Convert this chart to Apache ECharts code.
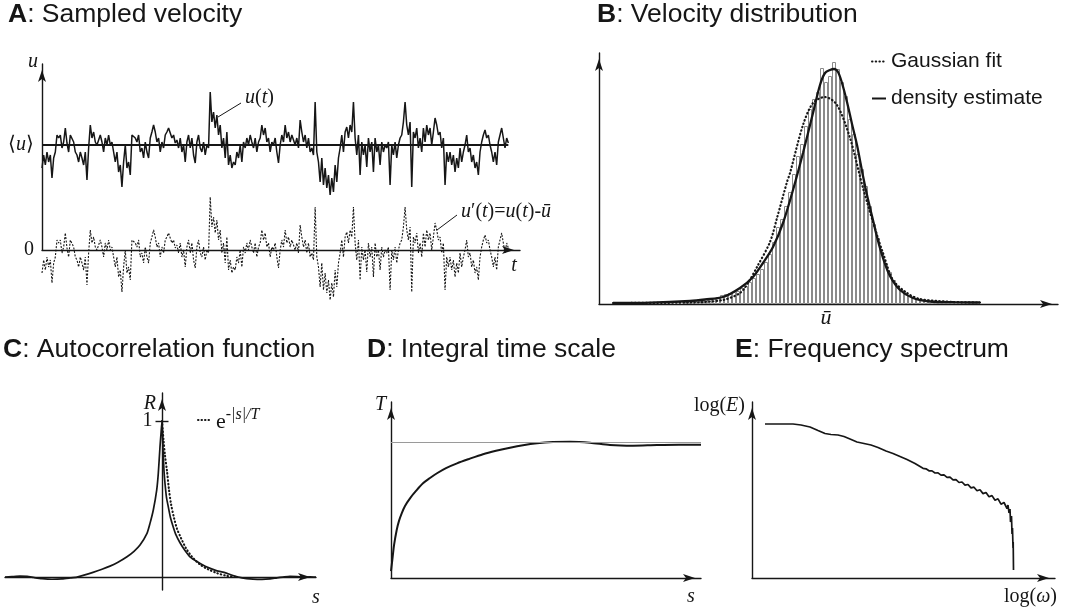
<!DOCTYPE html>
<html><head><meta charset="utf-8">
<script src="https://cdn.jsdelivr.net/npm/echarts@6/dist/echarts.min.js"></script>
<style>html,body{margin:0;padding:0;background:#fff}#c{width:1065px;height:612px}</style>
</head><body><div id="c"></div>
<script>
// ---------- Panel A: sampled velocity u(t) (arbitrary units, <u> = 105) ----------
const uSamples = [
 82,95,85,98,88,95,72,92,98,115,112,115,102,108,122,107,98,115,117,108,
 98,95,88,98,92,85,98,70,102,125,112,118,108,105,110,115,108,98,112,105,
 115,105,108,98,88,98,78,85,63,88,105,82,88,75,115,115,112,108,115,98,
 102,92,108,98,92,112,118,125,118,108,112,
 98,108,102,115,118,122,123,112,115,107,110,102,112,98,105,88,108,115,102,112,
 95,87,108,115,102,98,108,95,105,102,158,128,138,122,135,115,125,102,112,92,
 118,85,95,82,88,85,98,92,105,88,108,102,112,105,115,108,102,112,98,108,
 112,125,115,122,108,112,98,108,105,
 112,98,87,105,115,108,125,112,118,108,115,117,105,112,102,130,118,108,115,102,
 112,98,102,95,148,98,88,68,92,65,82,62,75,55,72,58,85,68,92,102,
 115,98,118,123,112,125,118,148,112,95,115,75,108,95,105,83,112,98,108,78,
 112,98,105,85,108,98,105,102,108,
 65,105,95,108,92,105,112,115,128,148,125,115,128,63,118,112,122,102,112,98,
 122,108,125,115,122,105,118,132,125,115,118,102,112,65,98,88,98,85,95,78,
 92,82,102,88,98,105,115,98,102,88,95,82,88,75,98,108,115,120,112,115,
 105,98,88,98,85,108,115,122,112,102,112,107
];
const meanU = 105;

// ---------- Panel B: velocity distribution ----------
const histStart = 87;      // first bin centre (velocity units)
const histBinWidth = 4;
const histCounts = [
 2,3,3,4,4,5,6,6,7,9,10,11,12,13,16,18,22,26,30,35,
 42,50,62,77,85,98,112,130,148,160,178,195,205,212,236,222,228,242,235,222,
 208,185,170,150,135,118,98,80,66,52,40,32,24,18,14,11,8,6,5,4,
 3,3,2,2,1.5,1.5,1,1,1,1,1,1,1
];
const densityEstimate = [
 [14,1],[51,1.3],[91,3],[106,4.5],[124,7],[141,16],[154,27],[164,41],[174,57],[184,81],
 [194,114],[204,151],[214,191],[221,219],[226,231],[231,234],[235,235],[239,232],[243,221],[248,202],
 [253,180],[258,159],[264,128],[268,109],[273,88],[278,67],[284,46],[291,28],[301,14],[314,6],
 [331,2.5],[356,1.8],[381,1.5]
];
const gaussianFit = [
 [14,1],[91,1.5],[124,4],[141,11],[149,21],[158,37],[171,62],[178,86],[188,122],[191,131],
 [204,179],[214,201],[226,207],[238,199],[251,166],[264,116],[278,69],[284,51],[294,24],[308,11],
 [321,5],[354,2],[381,1.5]
];
const uBar = 227;

// ---------- Panel C: autocorrelation R(s) ----------
const acfMeasured = [
 [-157,0],[-150,0.003],[-142,0.006],[-135,0.004],[-128,-0.003],[-120,-0.01],[-110,-0.014],[-100,-0.012],
 [-92,-0.006],[-85,0],[-78,0.012],[-69,0.03],[-60,0.05],[-52,0.07],[-44,0.095],[-35,0.13],[-28,0.165],
 [-22,0.205],[-15,0.28],[-12,0.344],[-8.7,0.43],[-5.3,0.558],[-3.7,0.665],[-2,0.835],[-1,0.92],[0,1],
 [1,0.82],[2,0.68],[3,0.6],[4.5,0.51],[6.3,0.45],[8.5,0.38],[11.3,0.32],[14,0.27],[18,0.22],[23,0.17],
 [28,0.13],[35,0.1],[45,0.064],[55,0.04],[62,0.03],[71,0.01],[80,-0.005],[91,-0.013],[100,-0.015],
 [108,-0.012],[115,-0.005],[121,0],[128,0.005],[135,0.003],[142,-0.002],[148,0.002],[154,0]
];
const acfExponential = [
 [0,1],[1.5,0.88],[3,0.78],[5,0.68],[7,0.56],[9,0.47],[12,0.38],[15,0.31],[19,0.25],[24,0.185],
 [30,0.13],[38,0.08],[46,0.05],[55,0.025],[65,0.008],[75,0]
];
const acfTick = 1;

// ---------- Panel D: integral time scale T(s) ----------
const integralScale = [
 [0,0.051],[0.17,0.157],[0.3,0.24],[0.57,0.353],[0.8,0.42],[1.07,0.476],[1.4,0.53],[1.9,0.586],[2.5,0.64],
 [3.2,0.696],[3.9,0.735],[4.6,0.77],[5.5,0.808],[6.6,0.843],[7.8,0.875],[9.2,0.91],[10.5,0.935],[11.9,0.958],
 [13.2,0.976],[14.6,0.99],[16.2,0.999],[17.9,1.002],[19.9,0.995],[21.9,0.978],[24.2,0.973],[26.6,0.978],
 [28.8,0.98],[31,0.98]
];
const integralScaleLimit = 1;

// ---------- Panel E: frequency spectrum log(E) vs log(omega) ----------
const spectrum = [
 [1.3,15.4],[3.0,15.4],[4.1,15.4],[4.9,15.3],[5.8,15.1],[6.6,14.75],[7.3,14.45],[7.9,14.35],[8.6,14.3],
 [9.2,14.15],[9.8,13.9],[10.5,13.6],[11.2,13.45],[11.9,13.3],[12.6,13.05],[13.4,12.7],[14.1,12.45],
 [14.8,12.15],[15.5,11.85],[16.3,11.45],[17.1,10.97],[17.4,10.92],[17.7,10.72],[18.0,10.71],[18.3,10.5],
 [18.6,10.51],[18.9,10.28],[19.2,10.31],[19.5,10.07],[19.8,10.08],[20.1,9.81],[20.4,9.84],[20.7,9.55],
 [21.0,9.6],[21.3,9.29],[21.6,9.35],[21.9,9.01],[22.2,9.08],[22.5,8.72],[22.8,8.82],[23.1,8.44],[23.4,8.55],
 [23.7,8.12],[24.0,8.24],[24.3,7.78],[24.6,7.92],[24.9,7.38],[25.2,7.55],[25.5,6.95],[25.6,7.3],[25.7,6.5],
 [25.8,6.9],[25.85,5.6],[25.95,6.2],[26.0,4.4],[26.05,5.0],[26.1,3.0],[26.12,3.6],[26.15,0.8]
];

// ---------- styles ----------
const INK = '#161616';
const SANS = 'Liberation Sans, Arial, sans-serif';
const SERIF = 'Liberation Serif, Times New Roman, serif';

function axis(grid, min, max, extra) {
  return Object.assign({
    type: 'value', gridIndex: grid, min: min, max: max,
    axisLine: { show: true, onZero: true, symbol: ['none', 'arrow'], symbolSize: [6, 12], symbolOffset: [0, -6],
      lineStyle: { color: INK, width: 1.4 } },
    axisTick: { show: false }, axisLabel: { show: false }, splitLine: { show: false }
  }, extra || {});
}
const italic = { fontFamily: SERIF, fontStyle: 'italic', fontSize: 20, color: INK };
const roman = { fontFamily: SERIF, fontSize: 20, color: INK };

function gtext(x, y, text, align, rich, size) {
  return { type: 'text', x: x, y: y, z: 50, style: { text: text, align: align, verticalAlign: 'middle',
    fill: INK, fontFamily: SERIF, fontStyle: 'italic', fontSize: size || 20, rich: rich } };
}
const gRich = {
  i: { fontFamily: SERIF, fontStyle: 'italic', fontSize: 20, fill: INK },
  n: { fontFamily: SERIF, fontStyle: 'normal', fontSize: 20, fill: INK }
};
function titleOf(letter, rest, left, top) {
  return { text: '{b|' + letter + '}{n|: ' + rest + '}', left: left, top: top, padding: 0,
    textStyle: { fontWeight: 'normal', rich: {
      b: { fontFamily: SANS, fontWeight: 'bold', fontSize: 26.5, lineHeight: 30, color: INK },
      n: { fontFamily: SANS, fontWeight: 'normal', fontSize: 26.5, lineHeight: 30, color: INK } } } };
}
function gridBox(l, t, w, h) {
  return { left: l, top: t, width: w, height: h, containLabel: false, outerBoundsMode: 'none' };
}

const option = {
  animation: false,
  backgroundColor: '#fff',
  title: [
    titleOf('A', 'Sampled velocity', 8, 0),
    titleOf('B', 'Velocity distribution', 597, 0),
    titleOf('C', 'Autocorrelation function', 3, 335),
    titleOf('D', 'Integral time scale', 367, 335),
    titleOf('E', 'Frequency spectrum', 735, 335)
  ],
  grid: [
    gridBox(42, 64, 478, 186),
    gridBox(599, 53, 459, 251),
    gridBox(5, 393, 311, 197),
    gridBox(391, 402, 310, 176),
    gridBox(752, 402, 303, 176)
  ],
  xAxis: [
    axis(0, 0, 287),
    axis(1, 0, 459, { axisLabel: { show: true, customValues: [uBar], formatter: function () { return 'ū'; },
      margin: 3, fontFamily: SERIF, fontStyle: 'italic', fontSize: 22, color: INK } }),
    axis(2, -157, 154),
    axis(3, 0, 31),
    axis(4, 0, 30.3)
  ],
  yAxis: [
    axis(0, 0, 186, { axisLabel: { show: true, customValues: [0, meanU], margin: 8,
      formatter: function (v) { return v === 0 ? '{n|0}' : '{n|⟨}{i|u}{n|⟩}'; },
      rich: { n: roman, i: italic } } }),
    axis(1, 0, 251),
    axis(2, -0.083, 1.18),
    axis(3, 0, 1.294),
    axis(4, 0, 17.6)
  ],
  legend: [
    { data: ['Gaussian fit', 'density estimate'], left: 866, top: 46, orient: 'vertical',
      itemWidth: 14, itemHeight: 10, itemGap: 16, selectedMode: false,
      itemStyle: { opacity: 0 },
      textStyle: { fontFamily: SANS, fontSize: 21, color: INK } },
    { data: ['exp'], left: 192, top: 402, itemWidth: 13, itemHeight: 10, selectedMode: false,
      itemStyle: { opacity: 0 },
      formatter: function () { return '{e|e}{s|-|s|/T}'; },
      textStyle: { rich: {
        e: { fontFamily: SERIF, fontSize: 22, color: INK, lineHeight: 26, verticalAlign: 'bottom' },
        s: { fontFamily: SERIF, fontStyle: 'italic', fontSize: 16, color: INK, lineHeight: 26, verticalAlign: 'top' } } } }
  ],
  series: [
    // A
    { type: 'line', name: 'u(t)', xAxisIndex: 0, yAxisIndex: 0, symbol: 'none', clip: false, z: 4,
      data: uSamples.map(function (v, i) { return [i, v]; }),
      lineStyle: { color: INK, width: 1.5 }, itemStyle: { color: INK } },
    { type: 'line', name: "u'(t)", xAxisIndex: 0, yAxisIndex: 0, symbol: 'none', clip: false, z: 4,
      data: uSamples.map(function (v, i) { return [i, v - meanU]; }),
      lineStyle: { color: INK, width: 1.1, type: [2, 1.5] }, itemStyle: { color: INK } },
    { type: 'line', name: 'mean', xAxisIndex: 0, yAxisIndex: 0, symbol: 'none', z: 5,
      data: [[0, meanU], [uSamples.length - 1, meanU]],
      lineStyle: { color: INK, width: 2 }, itemStyle: { color: INK } },
    // B
    { type: 'bar', name: 'histogram', xAxisIndex: 1, yAxisIndex: 1, barWidth: 4, z: 1,
      data: histCounts.map(function (h, i) { return [histStart + i * histBinWidth, h]; }),
      itemStyle: { color: '#ffffff', borderColor: '#8a8a8a', borderWidth: 1 } },
    { type: 'line', name: 'Gaussian fit', xAxisIndex: 1, yAxisIndex: 1, symbol: 'none', smooth: 0.3, z: 4,
      data: gaussianFit, lineStyle: { color: INK, width: 2.2, type: [0.5, 3.2], cap: 'round' }, itemStyle: { color: INK } },
    { type: 'line', name: 'density estimate', xAxisIndex: 1, yAxisIndex: 1, symbol: 'none', smooth: 0.3, z: 5,
      data: densityEstimate, lineStyle: { color: INK, width: 2.3 }, itemStyle: { color: INK } },
    // C
    { type: 'line', name: 'acf', xAxisIndex: 2, yAxisIndex: 2, symbol: 'none', smooth: 0.2, z: 4,
      data: acfMeasured, lineStyle: { color: INK, width: 1.7 }, itemStyle: { color: INK },
      markLine: { silent: true, symbol: 'none',
        label: { show: true, position: 'start', formatter: String(acfTick), distance: 3,
          fontFamily: SERIF, fontSize: 20, color: INK },
        lineStyle: { color: INK, width: 1.4, type: 'solid' },
        data: [[{ coord: [-6.5, acfTick] }, { coord: [6.5, acfTick] }]] } },
    { type: 'line', name: 'exp', xAxisIndex: 2, yAxisIndex: 2, symbol: 'none', smooth: 0.3, z: 5,
      data: acfExponential, lineStyle: { color: INK, width: 2.1, type: [0.5, 3], cap: 'round' }, itemStyle: { color: INK } },
    // D
    { type: 'line', name: 'T', xAxisIndex: 3, yAxisIndex: 3, symbol: 'none', smooth: 0.3, z: 4,
      data: integralScale, lineStyle: { color: INK, width: 2 }, itemStyle: { color: INK },
      markLine: { silent: true, symbol: 'none', label: { show: false },
        lineStyle: { color: '#9a9a9a', width: 1, type: 'solid' }, data: [{ yAxis: integralScaleLimit }] } },
    // E
    { type: 'line', name: 'E', xAxisIndex: 4, yAxisIndex: 4, symbol: 'none', z: 4,
      data: spectrum, lineStyle: { color: INK, width: 1.7 }, itemStyle: { color: INK } }
  ],
  graphic: [
    // panel A labels
    gtext(38, 62, 'u', 'right'),
    gtext(514, 266, 't', 'center'),
    gtext(245, 98, '{i|u}{n|(}{i|t}{n|)}', 'left', gRich),
    gtext(461, 212, '{i|u}{n|′(}{i|t}{n|)=}{i|u}{n|(}{i|t}{n|)-}{i|ū}', 'left', gRich),
    { type: 'line', z: 50, shape: { x1: 218, y1: 117, x2: 241, y2: 103 }, style: { stroke: INK, lineWidth: 1 } },
    { type: 'line', z: 50, shape: { x1: 437, y1: 230, x2: 457, y2: 215 }, style: { stroke: INK, lineWidth: 1 } },
    // panel C
    gtext(156, 404, 'R', 'right'),
    gtext(316, 598, 's', 'center'),
    // panel D
    gtext(386, 405, 'T', 'right'),
    gtext(691, 597, 's', 'center'),
    // panel E
    gtext(745, 406, '{n|log(}{i|E}{n|)}', 'right', gRich),
    gtext(1057, 597, '{n|log(}{i|ω}{n|)}', 'right', gRich)
  ]
};
echarts.init(document.getElementById('c')).setOption(option);
</script></body></html>
